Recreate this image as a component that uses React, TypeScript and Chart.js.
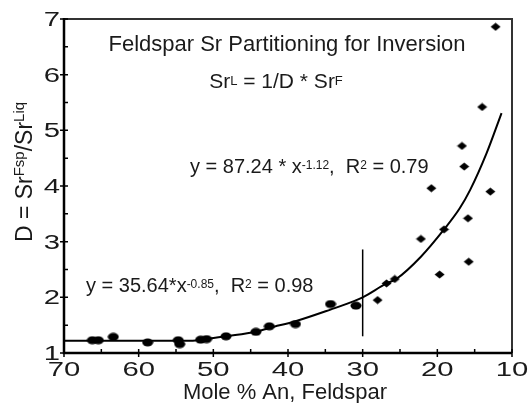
import React, { useEffect, useRef } from "react";
import { Chart, registerables } from "chart.js";

Chart.register(...registerables);

// ---- data ----
const circleX = [66.2, 65.4, 63.4, 58.8, 54.7, 54.5, 51.7, 50.9, 48.3, 44.3, 42.5, 39.0, 34.3, 30.9];
const circleY = [1.23, 1.23, 1.29, 1.19, 1.23, 1.16, 1.24, 1.25, 1.30, 1.38, 1.48, 1.52, 1.88, 1.85];

const diamondX = [28.0, 26.8, 25.7, 22.2, 19.7, 19.1, 15.9, 15.8, 12.9, 20.8, 16.7, 16.4, 14.0, 12.2];
const diamondY = [1.95, 2.25, 2.33, 3.05, 2.41, 3.22, 3.42, 2.64, 3.90, 3.96, 4.72, 4.35, 5.42, 6.86];

// fitted curve as drawn in the figure (read point by point)
const fitX = [70, 60, 53, 51, 48.3, 44.3, 42.5, 39, 34.3, 31, 30, 26.8, 25.5, 22.2, 19.1, 17, 15.6, 13.4, 11.4];
const fitY = [1.22, 1.22, 1.22, 1.25, 1.3, 1.38, 1.45, 1.57, 1.78, 1.94, 2.0, 2.25, 2.33, 2.73, 3.22, 3.6, 3.93, 4.59, 5.31];

// vertical divider at 30 mol% An
const dividerX = [30, 30];
const dividerY = [1.3, 2.86];

const xMin = 10, xMax = 70, xStep = 5, xLabelEvery = 10;
const yMin = 1, yMax = 7, yStep = 0.5;

const titleText = "Feldspar Sr Partitioning for Inversion";
const xTitle = "Mole % An, Feldspar";

const FONT = '"Liberation Sans", Arial, Helvetica, sans-serif';

type Seg = { t: string; size: number; rise: number };

function richWidth(ctx: CanvasRenderingContext2D, segs: Seg[]) {
  let w = 0;
  for (const s of segs) {
    ctx.font = `${s.size}px ${FONT}`;
    w += ctx.measureText(s.t).width;
  }
  return w;
}

function drawRich(ctx: CanvasRenderingContext2D, segs: Seg[], x: number, y: number, align: "left" | "center") {
  ctx.textAlign = "left";
  ctx.textBaseline = "alphabetic";
  let cx = align === "center" ? x - richWidth(ctx, segs) / 2 : x;
  for (const s of segs) {
    ctx.font = `${s.size}px ${FONT}`;
    ctx.fillText(s.t, cx, y - s.rise);
    cx += ctx.measureText(s.t).width;
  }
}

function makeEllipse() {
  const c = document.createElement("canvas");
  c.width = 12;
  c.height = 9;
  const g = c.getContext("2d")!;
  g.fillStyle = "#000";
  g.beginPath();
  g.ellipse(6, 4.5, 5.5, 4, 0, 0, Math.PI * 2);
  g.fill();
  return c;
}

function makeDiamond() {
  const c = document.createElement("canvas");
  c.width = 11;
  c.height = 9;
  const g = c.getContext("2d")!;
  g.fillStyle = "#000";
  g.beginPath();
  g.moveTo(5.5, 0.5);
  g.lineTo(10.5, 4.5);
  g.lineTo(5.5, 8.5);
  g.lineTo(0.5, 4.5);
  g.closePath();
  g.fill();
  return c;
}

const decorPlugin = {
  id: "decor",
  afterDraw(chart: any) {
    const ctx: CanvasRenderingContext2D = chart.ctx;
    const xs = chart.scales.x;
    const ys = chart.scales.y;
    const { left, right, top, bottom } = chart.chartArea;
    ctx.save();
    ctx.fillStyle = "#1a1a1a";
    ctx.strokeStyle = "#000";

    // frame (top / right thinner)
    ctx.strokeStyle = "#333";
    ctx.lineWidth = 2;
    ctx.beginPath();
    ctx.moveTo(left, top);
    ctx.lineTo(right, top);
    ctx.lineTo(right, bottom);
    ctx.stroke();

    // axes (left / bottom thick)
    ctx.strokeStyle = "#000";
    ctx.lineWidth = 2.5;
    ctx.beginPath();
    ctx.moveTo(left, top - 1);
    ctx.lineTo(left, bottom);
    ctx.lineTo(right, bottom);
    ctx.stroke();

    // ticks
    ctx.lineWidth = 1.5;
    ctx.beginPath();
    for (const t of xs.ticks) {
      const px = xs.getPixelForValue(t.value);
      const major = t.label !== "";
      ctx.moveTo(px, bottom - 4);
      ctx.lineTo(px, major ? bottom + 4 : bottom);
    }
    for (const t of ys.ticks) {
      const py = ys.getPixelForValue(t.value);
      const major = t.label !== "";
      ctx.moveTo(major ? left - 4 : left, py);
      ctx.lineTo(left + 4, py);
    }
    ctx.stroke();

    // tick labels (wide face as in the reference)
    ctx.font = `19.5px ${FONT}`;
    ctx.textBaseline = "alphabetic";
    for (const t of xs.ticks) {
      if (t.label === "") continue;
      const px = xs.getPixelForValue(t.value);
      ctx.save();
      ctx.translate(px, bottom + 23);
      ctx.scale(1.5, 1);
      ctx.textAlign = "center";
      ctx.fillText(String(t.label), 0, 0);
      ctx.restore();
    }
    for (const t of ys.ticks) {
      if (t.label === "") continue;
      const py = ys.getPixelForValue(t.value);
      ctx.save();
      ctx.translate(left - 4, py + 7);
      ctx.scale(1.5, 1);
      ctx.textAlign = "right";
      ctx.fillText(String(t.label), 0, 0);
      ctx.restore();
    }

    // titles
    drawRich(ctx, [{ t: titleText, size: 22, rise: 0 }], 287, 51, "center");
    drawRich(
      ctx,
      [
        { t: "Sr", size: 21, rise: 0 },
        { t: "L", size: 13, rise: 3.5 },
        { t: " = 1/D * Sr", size: 21, rise: 0 },
        { t: "F", size: 13, rise: 3.5 },
      ],
      276,
      88,
      "center"
    );
    drawRich(
      ctx,
      [
        { t: "y = 87.24 * x", size: 20, rise: 0 },
        { t: "-1.12", size: 12, rise: 4.5 },
        { t: ",  R", size: 20, rise: 0 },
        { t: "2", size: 12, rise: 4.5 },
        { t: " = 0.79", size: 20, rise: 0 },
      ],
      190,
      173,
      "left"
    );
    drawRich(
      ctx,
      [
        { t: "y = 35.64*x", size: 20, rise: 0 },
        { t: "-0.85", size: 12, rise: 4.5 },
        { t: ",  R", size: 20, rise: 0 },
        { t: "2", size: 12, rise: 4.5 },
        { t: " = 0.98", size: 20, rise: 0 },
      ],
      86,
      292,
      "left"
    );
    drawRich(ctx, [{ t: xTitle, size: 22, rise: 0 }], 285, 399, "center");

    // y title (rotated)
    ctx.save();
    ctx.translate(31.5, 172);
    ctx.rotate(-Math.PI / 2);
    drawRich(
      ctx,
      [
        { t: "D = Sr", size: 23, rise: 0 },
        { t: "Fsp", size: 15, rise: 8 },
        { t: "/Sr", size: 23, rise: 0 },
        { t: "Liq", size: 15, rise: 8 },
      ],
      0,
      0,
      "center"
    );
    ctx.restore();

    ctx.restore();
  },
};

export default function App() {
  const ref = useRef<HTMLCanvasElement | null>(null);

  useEffect(() => {
    if (!ref.current) return;
    const ellipse = makeEllipse();
    const diamond = makeDiamond();
    const pts = (xs: number[], ys: number[]) => xs.map((x, i) => ({ x, y: ys[i] }));

    const chart = new Chart(ref.current, {
      type: "scatter",
      data: {
        datasets: [
          {
            type: "line",
            label: "fit",
            data: pts(fitX, fitY),
            borderColor: "#000",
            borderWidth: 2,
            pointRadius: 0,
            cubicInterpolationMode: "monotone",
            fill: false,
          } as any,
          {
            type: "line",
            label: "divider",
            data: pts(dividerX, dividerY),
            borderColor: "#000",
            borderWidth: 1.5,
            pointRadius: 0,
            fill: false,
          } as any,
          {
            label: "Feldspar (circles)",
            data: pts(circleX, circleY),
            pointStyle: ellipse as any,
            backgroundColor: "#000",
            borderColor: "#000",
          },
          {
            label: "Feldspar (diamonds)",
            data: pts(diamondX, diamondY),
            pointStyle: diamond as any,
            backgroundColor: "#000",
            borderColor: "#000",
          },
        ],
      },
      options: {
        responsive: false,
        animation: false,
        devicePixelRatio: 1,
        layout: { padding: { top: 19, right: 17, left: 0, bottom: 0 } },
        plugins: { legend: { display: false }, tooltip: { enabled: false } },
        scales: {
          x: {
            type: "linear",
            reverse: true,
            min: xMin,
            max: xMax,
            grid: { display: false },
            border: { display: false },
            ticks: {
              display: false,
              stepSize: xStep,
              autoSkip: false,
              callback: (v: any) => (Number(v) % xLabelEvery === 0 ? String(v) : ""),
            },
            afterFit: (s: any) => {
              s.height = 50;
            },
          },
          y: {
            type: "linear",
            min: yMin,
            max: yMax,
            grid: { display: false },
            border: { display: false },
            ticks: {
              display: false,
              stepSize: yStep,
              autoSkip: false,
              callback: (v: any) => (Number.isInteger(Number(v)) ? String(v) : ""),
            },
            afterFit: (s: any) => {
              s.width = 64;
            },
          },
        },
      },
      plugins: [decorPlugin],
    });
    return () => chart.destroy();
  }, []);

  return (
    <div style={{ position: "absolute", left: 0, top: 0, width: 529, height: 403, background: "#fff" }}>
      <canvas ref={ref} width={529} height={403} style={{ display: "block" }} />
    </div>
  );
}
